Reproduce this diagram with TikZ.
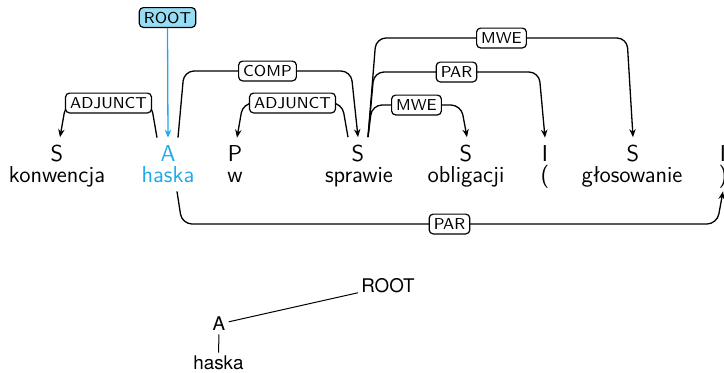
\documentclass[tikz,border=0pt]{standalone}
\usepackage{fontspec}
\newfontfamily\heros{TeX Gyre Heros}
\usetikzlibrary{arrows.meta}
\definecolor{hl}{RGB}{30,170,230}
\definecolor{rootfill}{RGB}{150,220,245}
\begin{document}
\begin{tikzpicture}[x=0.5pt,y=-0.5pt,
  tag/.style={font=\sffamily\fontsize{11.5}{13}\selectfont, anchor=base, inner xsep=0pt, inner ysep=3.5pt},
  word/.style={font=\sffamily\fontsize{11.5}{13}\selectfont, anchor=base, inner xsep=0pt, inner ysep=2pt, text depth=2.5pt},
  lab/.style={draw, fill=white, rounded corners=2pt, font=\sffamily\fontsize{7.9}{9}\selectfont, inner xsep=2.3pt, inner ysep=2.2pt, text height=5.5pt, text depth=0pt, line width=0.6pt},
  dep/.style={line width=0.65pt, rounded corners=5pt, -{Stealth[length=4pt,width=3.2pt]}},
  tree/.style={font=\heros\fontsize{9.4}{11}\selectfont, inner sep=1.5pt},
  treeline/.style={line width=0.5pt}
]
\useasboundingbox (0,0) rectangle (724,372);
% tags
\node[tag] (t1) at (57,161) {S};
\node[tag, text=hl] (t2) at (168,161) {A};
\node[tag] (t3) at (235,161) {P};
\node[tag] (t4) at (358,161) {S};
\node[tag] (t5) at (466,161) {S};
\node[tag] (t6) at (545,161) {I};
\node[tag] (t7) at (633,161) {S};
\node[tag] (t8) at (723,161) {I};
% words
\node[word] (w1) at (57,182) {konwencja};
\node[word, text=hl] (w2) at (168,182) {haska};
\node[word] (w3) at (235,182) {w};
\node[word] (w4) at (359,182) {sprawie};
\node[word] (w5) at (466,182) {obligacji};
\node[word] (w6) at (545,182) {(};
\node[word] (w7) at (632,182) {głosowanie};
\node[word] (w8) at (723,182) {)};
% root
\node[lab, fill=rootfill] (root) at (167.5,17.5) {ROOT};
\draw[dep, hl] (root.south) -- (t2.north);
% arcs
\draw[dep] ([xshift=-5.5pt]t2.north) -- (151,103) -- node[lab]{ADJUNCT} (66,103) -- ([xshift=1.5pt]t1.north);
\draw[dep] ([xshift=5pt]t2.north) -- (184,71) -- node[lab]{COMP} (351,71) -- (t4.north);
\draw[dep] ([xshift=-5pt]t4.north) -- (342,103) -- node[lab]{ADJUNCT} (243,103) -- ([xshift=1pt]t3.north);
\draw[dep] ([xshift=5pt]t4.north) -- (372,105) -- node[lab]{MWE} (461,105) -- ([xshift=0.5pt]t5.north);
\draw[dep] ([xshift=5pt]t4.north) -- (374,72) -- node[lab]{PAR} (539,72) -- (t6.north);
\draw[dep] ([xshift=5pt]t4.north) -- (376,38) -- node[lab]{MWE} (627,38) -- (t7.north);
\draw[dep] ([xshift=4.5pt]w2.south) -- (182,224) -- node[lab]{PAR} (717,224) -- (w8.south);
% bottom tree
\node[tree] (broot) at (388,286) {ROOT};
\node[tree] (ba) at (219,324) {A};
\node[tree] (bw) at (218.5,363) {haska};
\draw[treeline] (ba) -- (broot);
\draw[treeline] (ba) -- (bw);
\end{tikzpicture}
\end{document}
